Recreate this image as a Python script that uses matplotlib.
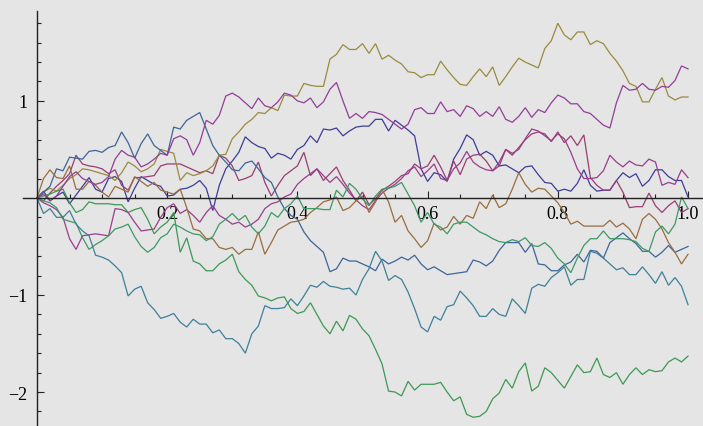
import numpy as np
import matplotlib
matplotlib.use("Agg")
import matplotlib.pyplot as plt
from matplotlib.ticker import FixedLocator, FuncFormatter

# time steps (0 .. 1 in steps of 0.01)
t = np.arange(101) / 100

olive = [0, 0.06, 0.10, 0.07, 0.13, 0.20, 0.24, 0.30, 0.29, 0.27,
         0.25, 0.23, 0.18, 0.26, 0.37, 0.33, 0.27, 0.30, 0.35, 0.50,
         0.48, 0.46, 0.18, 0.26, 0.23, 0.25, 0.28, 0.33, 0.44, 0.45,
         0.61, 0.68, 0.76, 0.81, 0.88, 0.87, 0.93, 0.90, 1.06, 1.05,
         1.05, 1.18, 1.16, 1.15, 1.15, 1.43, 1.48, 1.58, 1.53, 1.53,
         1.59, 1.49, 1.59, 1.43, 1.47, 1.42, 1.38, 1.30, 1.29, 1.24,
         1.27, 1.27, 1.41, 1.32, 1.24, 1.17, 1.16, 1.25, 1.33, 1.25,
         1.35, 1.16, 1.25, 1.35, 1.44, 1.40, 1.37, 1.34, 1.54, 1.62,
         1.80, 1.68, 1.63, 1.71, 1.71, 1.58, 1.62, 1.59, 1.49, 1.41,
         1.31, 1.18, 1.15, 0.99, 0.99, 1.12, 1.24, 1.05, 1.01, 1.04,
         1.04]

purple = [0, 0.04, -0.03, 0.02, 0.12, 0.22, 0.27, 0.20, 0.17, 0.14,
          0.16, 0.22, 0.40, 0.49, 0.44, 0.42, 0.32, 0.35, 0.40, 0.46,
          0.44, 0.61, 0.64, 0.60, 0.44, 0.57, 0.80, 0.76, 0.85, 1.05,
          1.08, 1.04, 0.98, 0.92, 1.03, 0.95, 0.93, 0.99, 1.08, 1.06,
          1.00, 0.98, 1.03, 0.93, 0.99, 1.12, 1.19, 1.00, 0.82, 0.87,
          0.82, 0.89, 0.88, 0.86, 0.81, 0.76, 0.71, 0.76, 0.91, 0.93,
          0.87, 0.87, 0.99, 0.89, 0.91, 0.84, 0.95, 0.92, 0.84, 0.89,
          0.84, 0.94, 0.81, 0.78, 0.84, 0.93, 0.83, 0.91, 0.88, 0.98,
          1.06, 1.03, 0.97, 0.97, 0.89, 0.87, 0.81, 0.75, 0.72, 0.98,
          1.16, 1.11, 1.12, 1.18, 1.12, 1.11, 1.15, 1.14, 1.21, 1.36,
          1.33]

navy = [0, 0.07, -0.03, 0.02, 0.06, -0.06, 0.03, 0.12, 0.21, 0.09,
        0.06, 0.20, 0.22, 0.17, -0.04, 0.10, 0.22, 0.18, 0.14, 0.12,
        0.02, 0.03, 0.09, 0.10, 0.13, 0.18, 0.10, -0.13, 0.13, 0.30,
        0.38, 0.47, 0.63, 0.57, 0.53, 0.51, 0.41, 0.46, 0.44, 0.40,
        0.50, 0.54, 0.64, 0.57, 0.71, 0.70, 0.72, 0.64, 0.69, 0.73,
        0.74, 0.74, 0.81, 0.81, 0.69, 0.80, 0.75, 0.70, 0.64, 0.30,
        0.17, 0.26, 0.24, 0.17, 0.40, 0.51, 0.65, 0.60, 0.44, 0.48,
        0.44, 0.33, 0.34, 0.30, 0.26, 0.32, 0.33, 0.24, 0.16, 0.15,
        0.07, 0.09, 0.07, 0.15, 0.29, 0.13, 0.07, 0.08, 0.08, 0.18,
        0.26, 0.21, 0.25, 0.12, 0.18, 0.29, 0.29, 0.22, 0.18, 0.18,
        0.01]

blue = [0, 0.06, 0.12, 0.30, 0.28, 0.42, 0.41, 0.40, 0.48, 0.49,
        0.47, 0.52, 0.54, 0.68, 0.57, 0.41, 0.56, 0.66, 0.54, 0.49,
        0.44, 0.73, 0.71, 0.80, 0.84, 0.88, 0.71, 0.54, 0.44, 0.37,
        0.29, 0.28, 0.36, 0.38, 0.30, 0.21, 0.16, 0.01, -0.11, -0.18,
        -0.22, -0.35, -0.44, -0.50, -0.56, -0.76, -0.73, -0.62, -0.65, -0.65,
        -0.68, -0.71, -0.75, -0.63, -0.68, -0.65, -0.61, -0.64, -0.59, -0.68,
        -0.74, -0.71, -0.75, -0.79, -0.78, -0.77, -0.76, -0.64, -0.66, -0.70,
        -0.65, -0.54, -0.46, -0.46, -0.46, -0.56, -0.47, -0.68, -0.69, -0.75,
        -0.75, -0.69, -0.66, -0.58, -0.66, -0.54, -0.55, -0.62, -0.46, -0.41,
        -0.36, -0.42, -0.47, -0.55, -0.55, -0.61, -0.56, -0.49, -0.56, -0.53,
        -0.50]

steel = [0, -0.16, -0.11, -0.20, -0.20, -0.13, -0.27, -0.34, -0.39, -0.59,
         -0.61, -0.64, -0.70, -0.77, -1.01, -0.94, -0.91, -1.08, -1.15, -1.24,
         -1.22, -1.19, -1.28, -1.33, -1.25, -1.30, -1.30, -1.39, -1.36, -1.45,
         -1.45, -1.50, -1.60, -1.40, -1.32, -1.11, -1.14, -1.14, -1.13, -1.04,
         -1.11, -1.01, -0.90, -0.92, -0.86, -0.91, -0.92, -0.94, -0.93, -1.00,
         -0.84, -0.73, -0.55, -0.65, -0.85, -0.80, -0.84, -0.97, -1.14, -1.33,
         -1.38, -1.22, -1.26, -1.12, -1.10, -0.96, -1.03, -1.11, -1.22, -1.22,
         -1.14, -1.20, -1.22, -1.04, -1.11, -1.19, -0.93, -0.89, -0.91, -0.82,
         -0.77, -0.71, -0.90, -0.84, -0.84, -0.55, -0.57, -0.62, -0.68, -0.74,
         -0.72, -0.79, -0.79, -0.71, -0.79, -0.88, -0.76, -0.90, -0.82, -0.91,
         -1.10]

green_low = [0, 0.02, 0.04, 0.07, 0.09, -0.05, -0.15, -0.12, -0.04, -0.06,
             -0.06, -0.06, -0.07, -0.07, -0.15, -0.12, -0.10, -0.22, -0.37, -0.30,
             -0.25, -0.15, -0.56, -0.41, -0.65, -0.68, -0.75, -0.75, -0.68, -0.64,
             -0.58, -0.76, -0.84, -0.90, -1.01, -1.03, -1.06, -1.03, -1.02, -1.14,
             -1.19, -1.17, -1.08, -1.20, -1.32, -1.40, -1.27, -1.37, -1.21, -1.25,
             -1.35, -1.42, -1.56, -1.71, -1.99, -2.00, -2.04, -1.89, -1.98, -1.92,
             -1.92, -1.92, -1.90, -2.00, -2.09, -2.05, -2.23, -2.26, -2.25, -2.20,
             -2.07, -2.01, -1.87, -1.96, -1.79, -1.70, -1.99, -1.94, -1.75, -1.80,
             -1.88, -1.96, -1.84, -1.72, -1.80, -1.79, -1.65, -1.82, -1.85, -1.80,
             -1.92, -1.82, -1.75, -1.82, -1.77, -1.79, -1.78, -1.69, -1.65, -1.69,
             -1.63]

green_up = [0, -0.03, -0.05, -0.10, -0.22, -0.24, -0.26, -0.41, -0.53, -0.48,
            -0.44, -0.39, -0.32, -0.30, -0.27, -0.40, -0.50, -0.56, -0.51, -0.41,
            -0.37, -0.27, -0.30, -0.34, -0.37, -0.38, -0.44, -0.40, -0.27, -0.22,
            -0.16, -0.23, -0.18, -0.30, -0.37, -0.29, -0.15, -0.20, -0.11, -0.06,
            0.02, -0.11, -0.11, -0.11, -0.12, -0.12, 0.08, 0.01, 0.15, 0.09,
            -0.01, -0.08, 0.02, 0.09, 0.10, 0.12, 0.16, 0.04, -0.08, -0.25,
            -0.15, -0.27, -0.30, -0.37, -0.27, -0.25, -0.25, -0.30, -0.35, -0.38,
            -0.42, -0.45, -0.46, -0.43, -0.45, -0.41, -0.49, -0.50, -0.46, -0.52,
            -0.62, -0.68, -0.77, -0.62, -0.49, -0.42, -0.42, -0.34, -0.42, -0.42,
            -0.42, -0.43, -0.45, -0.52, -0.55, -0.35, -0.29, -0.37, -0.27, 0.01,
            -0.11]

brown = [0, 0.20, 0.29, 0.21, 0.20, 0.33, 0.09, 0.09, 0.17, 0.13,
         0.06, 0.01, 0.12, 0.09, 0.06, 0.22, 0.17, 0.12, 0.16, 0.08,
         0.06, 0.04, 0.09, -0.10, -0.32, -0.34, -0.42, -0.42, -0.51, -0.53,
         -0.51, -0.58, -0.53, -0.53, -0.35, -0.58, -0.46, -0.33, -0.29, -0.25,
         -0.24, -0.22, -0.15, -0.10, -0.04, -0.02, 0.01, -0.13, -0.10, -0.03,
         0.02, -0.15, -0.04, 0.09, -0.04, -0.25, -0.18, -0.34, -0.42, -0.51,
         -0.44, -0.26, -0.33, -0.30, -0.19, -0.27, -0.18, -0.21, -0.04, -0.11,
         0.03, -0.10, -0.06, 0.09, 0.26, 0.14, 0.06, 0.10, 0.09, 0.02,
         -0.05, -0.15, -0.27, -0.24, -0.29, -0.29, -0.29, -0.29, -0.23, -0.30,
         -0.26, -0.32, -0.42, -0.22, -0.16, -0.22, -0.32, -0.46, -0.56, -0.68,
         -0.58]

crimson = [0, -0.03, 0.05, 0.12, 0.18, 0.25, 0.44, 0.35, 0.33, 0.32,
           0.30, 0.25, 0.29, 0.13, 0.08, 0.21, 0.21, 0.22, 0.23, 0.33,
           0.35, 0.35, 0.35, 0.32, 0.29, 0.26, 0.28, 0.25, 0.44, 0.41,
           0.33, 0.18, 0.20, 0.23, 0.37, 0.16, 0.02, 0.13, 0.23, 0.28,
           0.33, 0.47, 0.23, 0.30, 0.18, 0.25, 0.32, 0.18, 0.08, -0.03,
           0.06, -0.07, -0.01, 0.08, 0.12, 0.17, 0.23, 0.25, 0.35, 0.30,
           0.33, 0.44, 0.32, 0.18, 0.38, 0.24, 0.40, 0.44, 0.45, 0.38,
           0.28, 0.33, 0.50, 0.44, 0.52, 0.60, 0.66, 0.68, 0.66, 0.58,
           0.68, 0.57, 0.64, 0.54, 0.65, 0.21, 0.13, 0.08, 0.08, 0.18,
           0.06, -0.10, -0.09, -0.09, 0.05, -0.08, -0.15, -0.08, -0.03, -0.15,
           -0.11]

magenta = [0, -0.05, -0.08, -0.12, -0.20, -0.42, -0.53, -0.39, -0.38, -0.37,
           -0.38, -0.39, -0.11, -0.12, -0.15, -0.25, -0.34, -0.33, -0.32, -0.20,
           -0.10, -0.06, -0.16, -0.12, -0.18, -0.25, -0.15, -0.08, -0.18, -0.22,
           -0.27, -0.25, -0.30, -0.27, -0.22, -0.11, -0.06, -0.04, 0.01, 0.04,
           0.14, 0.20, 0.25, 0.30, 0.23, 0.16, 0.22, 0.14, 0.05, -0.02,
           -0.08, -0.12, -0.03, 0.05, 0.10, 0.14, 0.20, 0.28, 0.32, 0.22,
           0.28, 0.35, 0.20, 0.18, 0.30, 0.36, 0.48, 0.37, 0.32, 0.29,
           0.28, 0.37, 0.50, 0.46, 0.50, 0.61, 0.71, 0.69, 0.64, 0.59,
           0.66, 0.61, 0.47, 0.30, 0.20, 0.20, 0.21, 0.28, 0.44, 0.37,
           0.32, 0.38, 0.34, 0.33, 0.40, 0.37, 0.13, 0.16, 0.14, 0.29,
           0.21]

paths = [navy, crimson, olive, green_low, blue, magenta, brown, green_up, steel, purple]
colors = ['#3d3d99', '#993d71', '#998b3d', '#3d9952', '#3d6599',
          '#993d8c', '#996d3d', '#3d9966', '#3d8099', '#923d99']

fig = plt.figure(figsize=(7.03, 4.27), dpi=100)
fig.patch.set_facecolor('#e5e5e5')
ax = fig.add_axes([0, 0, 1, 1])
ax.set_facecolor('#e5e5e5')

for vals, c in zip(paths, colors):
    ax.plot(t[:len(vals)], vals, color=c, lw=0.9, solid_joinstyle='miter')

ax.set_xlim(-0.0568, 1.023)
ax.set_ylim(-2.35, 2.05)

for s in ['top', 'right']:
    ax.spines[s].set_visible(False)
ax.spines['left'].set_position(('data', 0))
ax.spines['bottom'].set_position(('data', 0))
ax.spines['left'].set_bounds(-2.35, 1.93)
ax.spines['bottom'].set_bounds(-0.0215, 1.023)
for s in ['left', 'bottom']:
    ax.spines[s].set_linewidth(1.0)
    ax.spines[s].set_color('#222222')

ax.xaxis.set_major_locator(FixedLocator([0.2, 0.4, 0.6, 0.8, 1.0]))
ax.xaxis.set_minor_locator(FixedLocator([0.05, 0.1, 0.15, 0.25, 0.3, 0.35, 0.45, 0.5,
                                         0.55, 0.65, 0.7, 0.75, 0.85, 0.9, 0.95]))
ax.xaxis.set_major_formatter(FuncFormatter(lambda v, p: '%.1f' % v))
ax.yaxis.set_major_locator(FixedLocator([-2, -1, 1]))
ax.yaxis.set_minor_locator(FixedLocator([-2.2, -1.8, -1.6, -1.4, -1.2, -0.8, -0.6, -0.4,
                                         -0.2, 0.2, 0.4, 0.6, 0.8, 1.2, 1.4, 1.6, 1.8]))
ax.yaxis.set_major_formatter(FuncFormatter(lambda v, p: ('%d' % v).replace('-', '\u2212')))

ax.tick_params(which='both', direction='in', color='#222222', width=0.8)
ax.tick_params(which='major', length=5)
ax.tick_params(which='minor', length=3)
ax.tick_params(axis='x', pad=5)
ax.tick_params(axis='y', pad=7)
for lab in ax.get_xticklabels() + ax.get_yticklabels():
    lab.set_fontfamily('Liberation Serif')
    lab.set_fontsize(13)
    lab.set_color('black')

fig.savefig('out.png', dpi=100, facecolor=fig.get_facecolor())
